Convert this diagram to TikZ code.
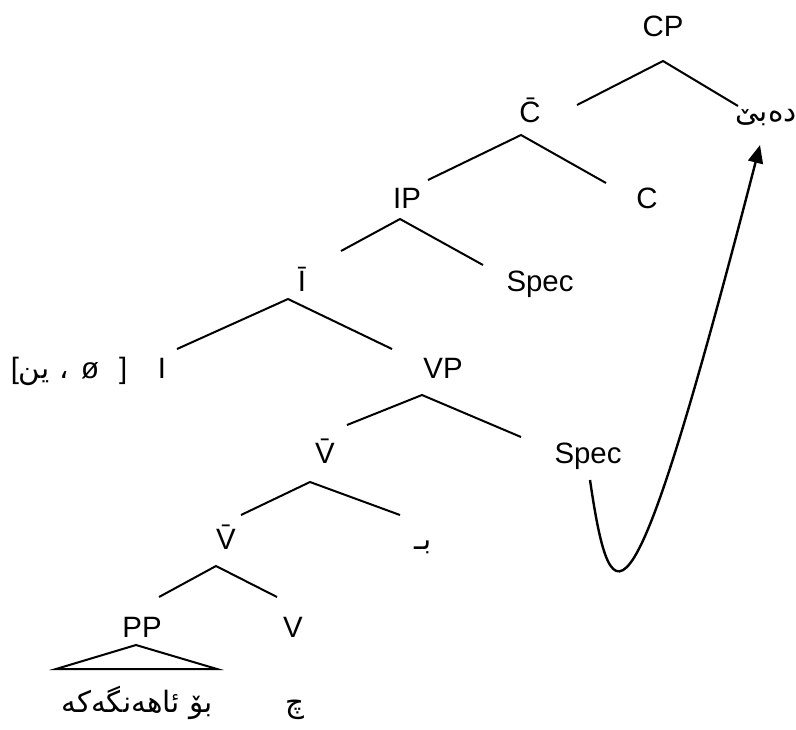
\documentclass[tikz,border=0pt]{standalone}
\usepackage{fontspec}
\setmainfont{Liberation Sans}
\newfontfamily\arabicfont[Script=Arabic]{DejaVu Sans}
\TeXXeTstate=1
\usetikzlibrary{arrows.meta}
\newcommand{\kurd}[1]{{\arabicfont\beginR #1\endR}}
\tikzset{
  lbl/.style={anchor=base, inner sep=0pt, font=\fontsize{14.7}{17}\selectfont},
  branch/.style={line width=1pt},
  movearrow/.style={line width=1.2pt, -{Triangle[length=9pt,width=7.5pt]}}
}
\begin{document}
\begin{tikzpicture}[x=0.5pt,y=-0.5pt]
        \useasboundingbox (0,0) rectangle (796,729);

        % Labels
        \node[lbl] (cp) at (663,36) {CP};
        \node[lbl] (cbar) at (530,122) {\=C};
        \node[lbl] (debe) at (766,121) {\kurd{دەبێ}};
        \node[lbl] (ip) at (407,208) {IP};
        \node[lbl] (c) at (647,208) {C};
        \node[lbl] (ibar) at (302,291) {\=I};
        \node[lbl] (spec1) at (540,291) {Spec};
        \node[lbl] (feat) at (69,378) {[\kurd{ین}\hspace{5pt}\kurd{،}\hspace{6pt}ø\hspace{10pt}]};
        \node[lbl] (i) at (162,378) {I};
        \node[lbl] (vp) at (443,378) {VP};
        \node[lbl] (vbar1) at (325,463) {\=V};
        \node[lbl] (spec2) at (588,463) {Spec};
        \node[lbl] (vbar2) at (226,549) {\=V};
        \node[lbl] (be) at (423,549) {\kurd{بـ}};
        \node[lbl] (pp) at (142,637) {PP};
        \node[lbl] (v) at (293,637) {V};
        \node[lbl] (party) at (137,712) {\kurd{بۆ ئاهەنگەکە}};
        \node[lbl] (che) at (295,712) {\kurd{چ}};

        % Branch points
        \coordinate (cpA) at (663,61);   \coordinate (cpL) at (577,105);   \coordinate (cpR) at (738,106);
        \coordinate (cbarA) at (521,135); \coordinate (cbarL) at (428,180); \coordinate (cbarR) at (606,183);
        \coordinate (ipA) at (400,219);   \coordinate (ipL) at (341,251);   \coordinate (ipR) at (483,265);
        \coordinate (ibarA) at (288,299); \coordinate (ibarL) at (177,349); \coordinate (ibarR) at (392,349);
        \coordinate (vpA) at (422,395);   \coordinate (vpL) at (347,425);   \coordinate (vpR) at (521,437);
        \coordinate (vbarA) at (310,482); \coordinate (vbarL) at (241,515); \coordinate (vbarR) at (400,515);
        \coordinate (vbbA) at (216,566);  \coordinate (vbbL) at (159,597);  \coordinate (vbbR) at (277,597);
        \coordinate (ppA) at (136,645);   \coordinate (ppL) at (56,669);    \coordinate (ppR) at (217,669);

        % Branches
        \draw[branch] (cpL) -- (cpA) -- (cpR);
        \draw[branch] (cbarL) -- (cbarA) -- (cbarR);
        \draw[branch] (ipL) -- (ipA) -- (ipR);
        \draw[branch] (ibarL) -- (ibarA) -- (ibarR);
        \draw[branch] (vpL) -- (vpA) -- (vpR);
        \draw[branch] (vbarL) -- (vbarA) -- (vbarR);
        \draw[branch] (vbbL) -- (vbbA) -- (vbbR);
        \draw[branch] (ppL) -- (ppA) -- (ppR) -- cycle;

        % Movement
        \coordinate (trace) at (590,480);
        \coordinate (landing) at (760,145);
        \draw[movearrow] (trace) .. controls (612,630) and (632,640) .. (landing);
\end{tikzpicture}
\end{document}
